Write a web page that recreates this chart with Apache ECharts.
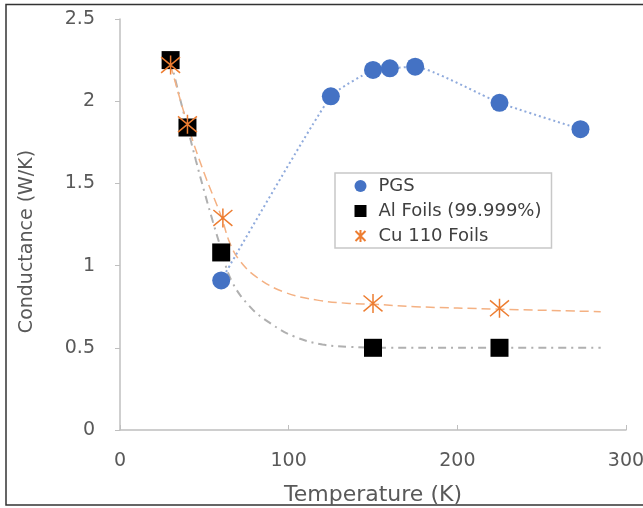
<!DOCTYPE html>
<html><head><meta charset="utf-8">
<script src="https://cdn.jsdelivr.net/npm/echarts@6/dist/echarts.min.js"></script>
<style>html,body{margin:0;padding:0;background:#fff;overflow:hidden}#c{width:643px;height:508px;overflow:hidden}</style>
</head><body><div id="c"></div>
<script>
var pgsX = [60, 125, 150, 160, 175, 225, 273];
var pgsY = [0.91, 2.03, 2.19, 2.2, 2.21, 1.99, 1.83];
var alX = [30, 40, 60, 150, 225];
var alY = [2.25, 1.84, 1.08, 0.5, 0.5];
var cuX = [30, 40, 61, 150, 225];
var cuY = [2.22, 1.86, 1.29, 0.77, 0.74];
var alTrendX = [30, 35, 40, 45, 50, 55, 60, 66, 77, 89, 103, 120, 136, 160, 200, 285];
var alTrendY = [2.25, 2.04, 1.84, 1.64, 1.45, 1.27, 1.1, 0.91, 0.75, 0.65, 0.57, 0.52, 0.506, 0.5, 0.5, 0.5];
var cuTrendX = [30, 40, 50, 60, 65, 71, 81, 97, 117, 136, 150, 175, 225, 285];
var cuTrendY = [2.22, 1.86, 1.56, 1.3, 1.14, 1.03, 0.93, 0.84, 0.79, 0.77, 0.765, 0.75, 0.735, 0.72];
var yTicks = [0, 0.5, 1, 1.5, 2, 2.5];

function zip(xs, ys) { return xs.map(function (x, i) { return [x, ys[i]]; }); }
var star = 'path://M0,0L10,10M10,0L0,10M5,-1L5,11';
var font = '"DejaVu Sans", sans-serif';
var txt = '#595959';

var chart = echarts.init(document.getElementById('c'));
chart.setOption({
  animation: false,
  graphic: [{ type: 'rect', shape: { x: 6, y: 4.5, width: 640, height: 500.5 },
    style: { fill: 'none', stroke: '#333', lineWidth: 1.5 }, silent: true }],
  grid: { left: 120, right: 17, top: 19, bottom: 78, containLabel: false, outerBoundsMode: 'none' },
  legend: {
    left: 335, top: 173, orient: 'vertical',
    data: [{ name: 'PGS', icon: 'circle' }, { name: 'Al Foils (99.999%)', icon: 'rect' }, { name: 'Cu 110 Foils', icon: star }],
    borderColor: '#c8c8c8', borderWidth: 1.5, padding: [4, 10, 3, 18],
    itemGap: 7, itemWidth: 12, itemHeight: 12,
    textStyle: { fontFamily: font, fontSize: 18, color: '#404040', padding: [0, 0, 0, 7] }
  },
  xAxis: {
    type: 'value', min: 0, max: 300, interval: 100,
    name: 'Temperature (K)', nameLocation: 'middle', nameGap: 54,
    nameTextStyle: { fontFamily: font, fontSize: 22, color: txt },
    axisLine: { show: true, lineStyle: { color: '#bfbfbf', width: 1.5 } },
    axisTick: { show: true, inside: true, length: 5, lineStyle: { color: '#bfbfbf' } },
    axisLabel: { fontFamily: font, fontSize: 19, color: txt, margin: 22 },
    splitLine: { show: false }
  },
  yAxis: {
    type: 'value', min: 0, max: 2.5, interval: 0.5,
    name: 'Conductance (W/K)', nameLocation: 'middle', nameGap: 83,
    nameTextStyle: { fontFamily: font, fontSize: 19, color: txt, padding: [0, 34, 0, 0] },
    axisLine: { show: true, lineStyle: { color: '#bfbfbf', width: 1.5 } },
    axisTick: { show: true, length: 5, lineStyle: { color: '#bfbfbf' } },
    axisLabel: { fontFamily: font, fontSize: 19, color: txt, margin: 25,
      formatter: function (v) { return yTicks.indexOf(v) >= 0 ? String(v) : ''; } },
    splitLine: { show: false }
  },
  series: [
    { name: 'AlTrend', type: 'line', data: zip(alTrendX, alTrendY), smooth: 0.4, showSymbol: false,
      lineStyle: { color: '#b0b0b0', width: 2, type: [8, 5, 2, 5] }, silent: true, z: 1 },
    { name: 'CuTrend', type: 'line', data: zip(cuTrendX, cuTrendY), smooth: 0.4, showSymbol: false,
      lineStyle: { color: '#f4b183', width: 1.5, type: [9, 5] }, silent: true, z: 1 },
    { name: 'PGS', type: 'line', data: zip(pgsX, pgsY), smooth: 0.15,
      symbol: 'circle', symbolSize: 18,
      itemStyle: { color: '#4472c4', opacity: 1 },
      lineStyle: { color: '#8faadc', width: 2, type: [2, 3] }, z: 3 },
    { name: 'Al Foils (99.999%)', type: 'scatter', data: zip(alX, alY),
      symbol: 'rect', symbolSize: 18, itemStyle: { color: '#000', opacity: 1 }, z: 4 },
    { name: 'Cu 110 Foils', type: 'scatter', data: zip(cuX, cuY),
      symbol: star, symbolSize: 19,
      itemStyle: { color: 'none', borderColor: '#ed7d31', borderWidth: 1.5, opacity: 1 }, z: 5 }
  ]
});
</script></body></html>
